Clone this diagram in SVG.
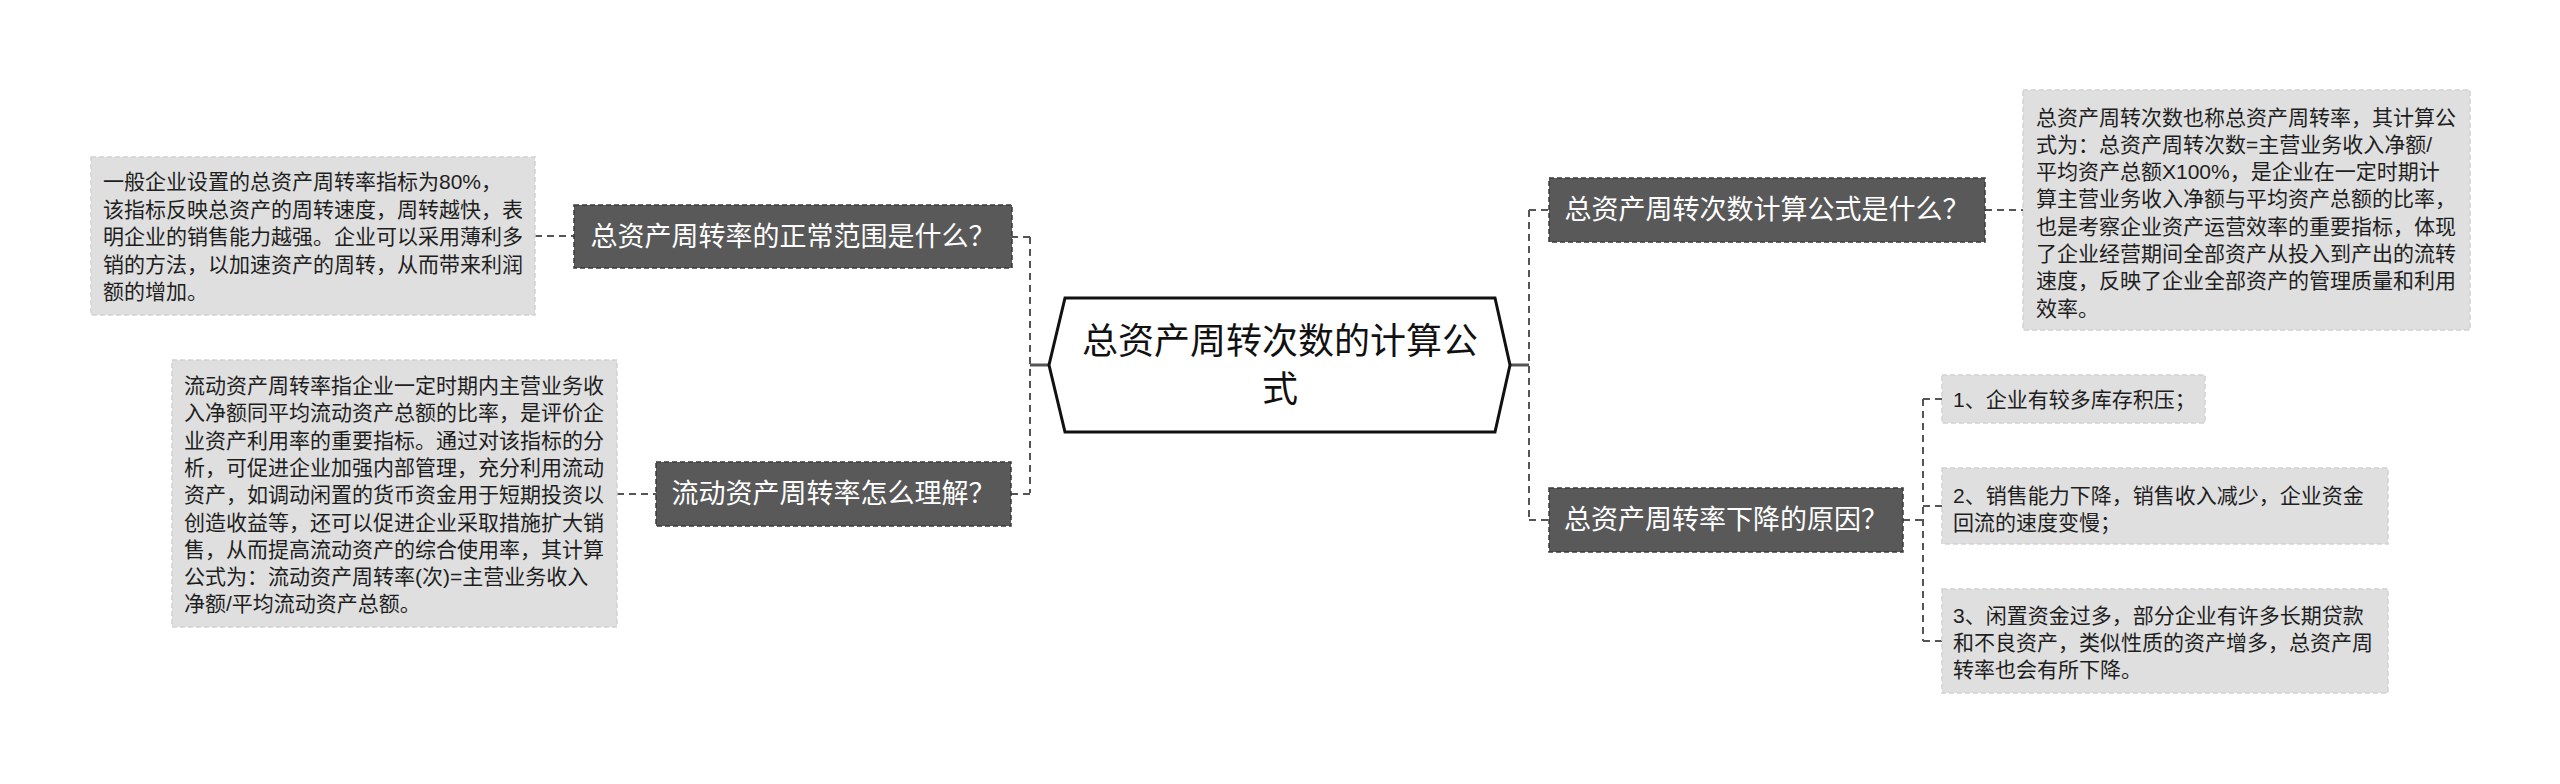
<svg xmlns="http://www.w3.org/2000/svg" width="2560" height="784" viewBox="0 0 2560 784">
<style>
text{font-family:"Liberation Sans","Noto Sans CJK SC",sans-serif;}
.topic{fill:#595959;stroke:#3a3a3a;stroke-width:1.5;stroke-dasharray:5 3;}
.topic-t{fill:#ffffff;font-size:27px;text-anchor:middle;}
.leaf{fill:#dfdfdf;stroke:#d2d2d2;stroke-width:1.5;stroke-dasharray:5 3;}
.leaf-t{fill:#1e1e1e;font-size:21px;}
.conn{fill:none;stroke:#555555;stroke-width:2;stroke-dasharray:7 5;}
.tick{fill:none;stroke:#555555;stroke-width:3;}
.center{fill:#ffffff;stroke:#111111;stroke-width:3;}
.center-t{fill:#111111;font-size:36px;text-anchor:middle;}
</style>
<rect width="2560" height="784" fill="#ffffff"/>

<g id="connectors">
  <path class="tick" d="M1049 365 H1030"/>
  <path class="conn" d="M1030 237 V493"/>
  <path class="conn" d="M1011 237 H1030"/>
  <path class="conn" d="M1011 494 H1030"/>
  <path class="conn" d="M535 236 H574"/>
  <path class="conn" d="M617 494 H656"/>
  <path class="tick" d="M1510 365 H1529"/>
  <path class="conn" d="M1529 210 V520"/>
  <path class="conn" d="M1529 210 H1549"/>
  <path class="conn" d="M1529 520 H1549"/>
  <path class="conn" d="M1985 210 H2023"/>
  <path class="conn" d="M1903 520 H1923"/>
  <path class="conn" d="M1923 399 V641"/>
  <path class="conn" d="M1923 399 H1942"/>
  <path class="conn" d="M1923 506 H1942"/>
  <path class="conn" d="M1923 641 H1942"/>
</g>

<g id="center">
  <polygon class="center" points="1065,298 1495,298 1510,365 1495,432 1065,432 1049,365"/>
  <text class="center-t" x="1280" y="354">总资产周转次数的计算公</text>
  <text class="center-t" x="1280" y="402">式</text>
</g>

<g id="topic-left-1">
  <rect class="topic" x="574" y="205" width="438" height="63"/>
  <text class="topic-t" x="793" y="246">总资产周转率的正常范围是什么？</text>
</g>

<g id="leaf-left-1">
  <rect class="leaf" x="91" y="157" width="444" height="158"/>
  <text class="leaf-t" x="103">
    <tspan x="103" y="189">一般企业设置的总资产周转率指标为80%，</tspan>
    <tspan x="103" y="216.5">该指标反映总资产的周转速度，周转越快，表</tspan>
    <tspan x="103" y="244">明企业的销售能力越强。企业可以采用薄利多</tspan>
    <tspan x="103" y="271.5">销的方法，以加速资产的周转，从而带来利润</tspan>
    <tspan x="103" y="299">额的增加。</tspan>
  </text>
</g>

<g id="topic-left-2">
  <rect class="topic" x="656" y="462" width="355" height="64"/>
  <text class="topic-t" x="833.5" y="503">流动资产周转率怎么理解？</text>
</g>

<g id="leaf-left-2">
  <rect class="leaf" x="172" y="360" width="445" height="267"/>
  <text class="leaf-t">
    <tspan x="184" y="393">流动资产周转率指企业一定时期内主营业务收</tspan>
    <tspan x="184" y="420.3">入净额同平均流动资产总额的比率，是评价企</tspan>
    <tspan x="184" y="447.6">业资产利用率的重要指标。通过对该指标的分</tspan>
    <tspan x="184" y="474.9">析，可促进企业加强内部管理，充分利用流动</tspan>
    <tspan x="184" y="502.2">资产，如调动闲置的货币资金用于短期投资以</tspan>
    <tspan x="184" y="529.5">创造收益等，还可以促进企业采取措施扩大销</tspan>
    <tspan x="184" y="556.8">售，从而提高流动资产的综合使用率，其计算</tspan>
    <tspan x="184" y="584.1">公式为：流动资产周转率(次)=主营业务收入</tspan>
    <tspan x="184" y="611.4">净额/平均流动资产总额。</tspan>
  </text>
</g>

<g id="topic-right-1">
  <rect class="topic" x="1549" y="178" width="436" height="64"/>
  <text class="topic-t" x="1767" y="219">总资产周转次数计算公式是什么？</text>
</g>

<g id="leaf-right-1">
  <rect class="leaf" x="2023" y="90" width="447" height="240"/>
  <text class="leaf-t">
    <tspan x="2036" y="124.5">总资产周转次数也称总资产周转率，其计算公</tspan>
    <tspan x="2036" y="151.8">式为：总资产周转次数=主营业务收入净额/</tspan>
    <tspan x="2036" y="179.1">平均资产总额X100%，是企业在一定时期计</tspan>
    <tspan x="2036" y="206.4">算主营业务收入净额与平均资产总额的比率，</tspan>
    <tspan x="2036" y="233.7">也是考察企业资产运营效率的重要指标，体现</tspan>
    <tspan x="2036" y="261">了企业经营期间全部资产从投入到产出的流转</tspan>
    <tspan x="2036" y="288.3">速度，反映了企业全部资产的管理质量和利用</tspan>
    <tspan x="2036" y="315.6">效率。</tspan>
  </text>
</g>

<g id="topic-right-2">
  <rect class="topic" x="1549" y="488" width="354" height="64"/>
  <text class="topic-t" x="1726" y="529">总资产周转率下降的原因？</text>
</g>

<g id="leaf-right-2a">
  <rect class="leaf" x="1942" y="375" width="263" height="48"/>
  <text class="leaf-t" x="1953" y="406.5">1、企业有较多库存积压；</text>
</g>

<g id="leaf-right-2b">
  <rect class="leaf" x="1942" y="468" width="446" height="76"/>
  <text class="leaf-t">
    <tspan x="1953" y="502.5">2、销售能力下降，销售收入减少，企业资金</tspan>
    <tspan x="1953" y="529.8">回流的速度变慢；</tspan>
  </text>
</g>

<g id="leaf-right-2c">
  <rect class="leaf" x="1942" y="589" width="446" height="104"/>
  <text class="leaf-t">
    <tspan x="1953" y="622.5">3、闲置资金过多，部分企业有许多长期贷款</tspan>
    <tspan x="1953" y="649.8">和不良资产，类似性质的资产增多，总资产周</tspan>
    <tspan x="1953" y="677.1">转率也会有所下降。</tspan>
  </text>
</g>
</svg>
